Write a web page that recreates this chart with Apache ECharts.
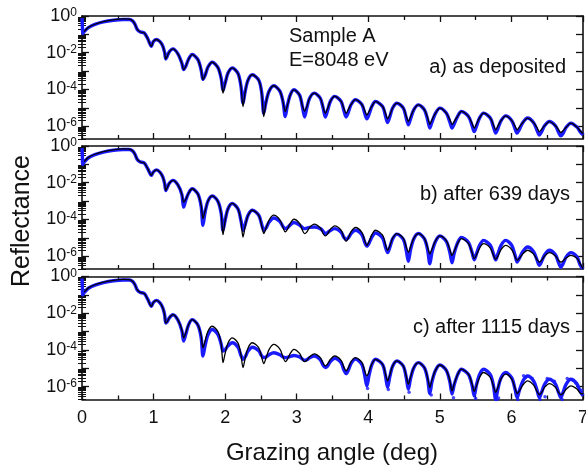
<!DOCTYPE html>
<html><head><meta charset="utf-8">
<script src="https://cdn.jsdelivr.net/npm/echarts@6/dist/echarts.min.js"></script>
<style>html,body{margin:0;padding:0;background:#fff}#c{width:586px;height:469px}</style>
</head><body><div id="c"></div>
<script>
// Grazing angle (deg), shared sampling for all three panels
const angles = [
0,0.005,0.01,0.03,0.09,0.18,0.30,0.44,0.58,0.66,0.71,0.74,0.77,0.81,0.87,0.92,
0.97,0.995,1.04,1.09,1.13,1.155,
1.17,1.19,1.22,1.27,1.34,1.395,
1.42,1.45,1.49,1.54,1.62,1.665,
1.69,1.72,1.76,1.82,1.90,1.945,
1.97,2.00,2.04,2.10,2.18,2.22,
2.25,2.28,2.32,2.38,2.47,2.51,
2.54,2.57,2.615,2.68,2.765,2.81,
2.84,2.87,2.91,2.96,3.04,3.08,
3.11,3.14,3.18,3.245,3.33,3.37,
3.40,3.43,3.47,3.53,3.62,3.66,
3.69,3.72,3.76,3.82,3.91,3.95,
3.98,4.01,4.05,4.10,4.20,4.24,
4.27,4.30,4.34,4.40,4.49,4.53,
4.56,4.59,4.635,4.70,4.785,4.83,
4.86,4.89,4.94,5.00,5.09,5.14,
5.17,5.20,5.25,5.30,5.40,5.45,
5.48,5.51,5.555,5.61,5.705,5.75,
5.78,5.81,5.855,5.92,6.005,6.05,
6.08,6.11,6.16,6.225,6.31,6.36,
6.39,6.42,6.465,6.53,6.615,6.66,
6.69,6.72,6.765,6.83,6.915,6.96,7.00
];

// log10(reflectance)
const fitA_log = [
null,null,null,-0.85,-0.62,-0.45,-0.31,-0.21,-0.16,-0.17,-0.27,-0.45,-0.72,-0.86,-0.93,-1.25,
-1.65,-1.40,-1.28,-1.40,-1.65,-2.00,
-2.34,-2.20,-1.95,-1.79,-2.06,-2.57,
-2.92,-2.74,-2.34,-2.10,-2.38,-2.95,
-3.47,-3.23,-2.78,-2.52,-2.81,-3.44,
-4.20,-3.68,-3.11,-2.83,-3.13,-3.81,
-4.93,-4.13,-3.49,-3.20,-3.50,-4.19,
-5.48,-4.72,-4.09,-3.80,-4.09,-4.70,
-5.20,-4.87,-4.30,-4.02,-4.31,-4.90,
-5.18,-4.95,-4.48,-4.20,-4.48,-4.98,
-5.30,-5.05,-4.65,-4.38,-4.65,-5.05,
-5.30,-5.10,-4.82,-4.56,-4.82,-5.15,
-5.40,-5.20,-4.92,-4.66,-4.93,-5.30,
-5.60,-5.40,-5.01,-4.75,-5.02,-5.45,
-5.75,-5.50,-5.11,-4.84,-5.11,-5.55,
-5.90,-5.65,-5.29,-5.02,-5.29,-5.65,
-5.90,-5.75,-5.45,-5.20,-5.47,-5.85,
-6.10,-5.90,-5.55,-5.29,-5.56,-5.95,
-6.20,-6.00,-5.70,-5.44,-5.70,-6.00,
-6.20,-6.05,-5.80,-5.56,-5.81,-6.10,
-6.30,-6.18,-5.97,-5.75,-5.98,-6.20,
-6.35,-6.25,-6.06,-5.84,-6.05,-6.25,-6.40
];
const dataA_log = [
-0.12,-0.50,-0.95,-0.85,-0.63,-0.46,-0.32,-0.23,-0.19,-0.19,-0.28,-0.45,-0.72,-0.86,-0.93,-1.25,
-1.65,-1.40,-1.28,-1.40,-1.65,-2.00,
-2.34,-2.20,-1.95,-1.79,-2.06,-2.57,
-2.92,-2.74,-2.34,-2.10,-2.38,-2.95,
-3.45,-3.23,-2.78,-2.52,-2.81,-3.40,
-4.05,-3.65,-3.11,-2.83,-3.13,-3.80,
-4.75,-4.10,-3.49,-3.20,-3.50,-4.15,
-5.30,-4.70,-4.09,-3.80,-4.09,-4.70,
-5.48,-4.87,-4.30,-4.02,-4.31,-4.95,
-5.50,-5.03,-4.48,-4.20,-4.48,-5.03,
-5.50,-5.16,-4.65,-4.38,-4.65,-5.16,
-5.50,-5.26,-4.82,-4.56,-4.82,-5.30,
-5.60,-5.36,-4.92,-4.66,-4.93,-5.44,
-5.80,-5.50,-5.01,-4.75,-5.02,-5.55,
-5.93,-5.61,-5.11,-4.84,-5.11,-5.66,
-6.10,-5.78,-5.29,-5.02,-5.29,-5.78,
-6.10,-5.88,-5.45,-5.20,-5.47,-5.97,
-6.30,-6.02,-5.55,-5.29,-5.56,-6.06,
-6.38,-6.14,-5.70,-5.44,-5.70,-6.14,
-6.38,-6.19,-5.80,-5.56,-5.81,-6.25,
-6.48,-6.32,-5.97,-5.75,-5.98,-6.35,
-6.53,-6.40,-6.06,-5.84,-6.05,-6.30,-6.48
];

const fitB_log = [
null,null,null,-0.85,-0.62,-0.45,-0.31,-0.21,-0.16,-0.17,-0.27,-0.45,-0.72,-0.86,-0.93,-1.25,
-1.60,-1.42,-1.30,-1.43,-1.70,-2.05,
-2.42,-2.28,-2.03,-1.87,-2.12,-2.62,
-3.06,-2.91,-2.56,-2.33,-2.62,-3.24,
-3.95,-3.54,-3.00,-2.72,-3.02,-3.70,
-4.83,-4.06,-3.42,-3.13,-3.43,-4.08,
-4.96,-4.38,-3.79,-3.50,-3.78,-4.33,
-4.77,-4.50,-4.03,-3.77,-4.02,-4.46,
-4.68,-4.54,-4.21,-3.99,-4.22,-4.59,
-4.77,-4.69,-4.44,-4.26,-4.47,-4.78,
-4.90,-4.80,-4.54,-4.35,-4.59,-4.99,
-5.19,-5.03,-4.67,-4.44,-4.70,-5.15,
-5.41,-5.22,-4.83,-4.59,-4.86,-5.36,
-5.68,-5.45,-5.02,-4.77,-5.03,-5.50,
-5.78,-5.50,-5.03,-4.77,-5.04,-5.54,
-5.87,-5.61,-5.16,-4.90,-5.16,-5.65,
-5.96,-5.73,-5.29,-5.04,-5.31,-5.81,
-6.14,-5.95,-5.56,-5.32,-5.56,-5.97,
-6.17,-6.01,-5.64,-5.41,-5.65,-6.04,
-6.23,-6.13,-5.87,-5.68,-5.89,-6.20,
-6.32,-6.24,-5.99,-5.81,-5.99,-6.24,
-6.32,-6.26,-6.10,-5.96,-6.12,-6.40,-6.68
];
const dataB_log = [
-0.12,-0.50,-1.00,-0.88,-0.64,-0.47,-0.33,-0.23,-0.19,-0.19,-0.28,-0.45,-0.72,-0.86,-0.93,-1.25,
-1.60,-1.42,-1.30,-1.43,-1.70,-2.05,
-2.42,-2.28,-2.03,-1.87,-2.12,-2.65,
-3.33,-2.95,-2.56,-2.33,-2.62,-3.30,
-4.32,-3.60,-3.00,-2.72,-3.02,-3.68,
-4.60,-4.04,-3.42,-3.13,-3.43,-4.04,
-4.60,-4.27,-3.77,-3.50,-3.77,-4.27,
-4.60,-4.47,-4.14,-3.92,-4.12,-4.40,
-4.50,-4.45,-4.30,-4.17,-4.30,-4.45,
-4.50,-4.47,-4.43,-4.41,-4.50,-4.65,
-4.77,-4.72,-4.60,-4.50,-4.70,-4.98,
-5.08,-5.00,-4.77,-4.59,-4.83,-5.24,
-5.45,-5.30,-4.96,-4.74,-5.01,-5.50,
-5.81,-5.53,-5.06,-4.80,-5.09,-5.68,
-6.28,-5.66,-5.06,-4.77,-5.06,-5.68,
-6.41,-5.79,-5.19,-4.90,-5.19,-5.80,
-6.36,-5.84,-5.26,-4.98,-5.26,-5.80,
-6.20,-5.89,-5.41,-5.14,-5.41,-5.89,
-6.20,-5.89,-5.41,-5.14,-5.41,-5.94,
-6.32,-6.13,-5.74,-5.50,-5.76,-6.23,
-6.50,-6.31,-5.92,-5.68,-5.93,-6.37,
-6.60,-6.42,-6.04,-5.81,-6.04,-6.48,-6.70
];

const fitC_log = [
null,null,null,-0.85,-0.62,-0.45,-0.31,-0.21,-0.16,-0.17,-0.27,-0.45,-0.72,-0.86,-0.93,-1.25,
-1.63,-1.42,-1.30,-1.44,-1.72,-2.10,
-2.53,-2.46,-2.25,-2.08,-2.36,-2.90,
-3.34,-3.07,-2.61,-2.35,-2.64,-3.24,
-3.88,-3.51,-2.98,-2.71,-3.01,-3.69,
-4.69,-4.19,-3.62,-3.34,-3.63,-4.25,
-4.96,-4.46,-3.89,-3.61,-3.88,-4.40,
-4.75,-4.45,-3.97,-3.70,-3.96,-4.40,
-4.64,-4.51,-4.19,-3.97,-4.19,-4.51,
-4.64,-4.58,-4.37,-4.21,-4.42,-4.74,
-4.87,-4.77,-4.52,-4.33,-4.57,-4.95,
-5.14,-4.99,-4.64,-4.42,-4.68,-5.15,
-5.42,-5.19,-4.76,-4.51,-4.78,-5.31,
-5.69,-5.37,-4.87,-4.60,-4.88,-5.42,
-5.86,-5.49,-4.96,-4.69,-4.97,-5.54,
-6.04,-5.63,-5.10,-4.82,-5.10,-5.69,
-6.23,-5.85,-5.32,-5.05,-5.32,-5.86,
-6.26,-5.97,-5.49,-5.23,-5.50,-5.99,
-6.31,-6.04,-5.58,-5.32,-5.59,-6.07,
-6.37,-6.24,-5.91,-5.69,-5.92,-6.28,
-6.44,-6.33,-6.03,-5.83,-6.03,-6.33,
-6.44,-6.37,-6.14,-5.96,-6.13,-6.34,-6.40
];
const dataC_log = [
-0.10,-0.50,-1.00,-0.88,-0.64,-0.47,-0.33,-0.23,-0.19,-0.19,-0.28,-0.45,-0.72,-0.86,-0.93,-1.25,
-1.63,-1.42,-1.30,-1.44,-1.72,-2.10,
-2.53,-2.46,-2.25,-2.08,-2.37,-2.95,
-3.52,-3.15,-2.62,-2.35,-2.65,-3.33,
-4.33,-3.76,-3.18,-2.89,-3.16,-3.69,
-4.06,-3.99,-3.78,-3.61,-3.86,-4.29,
-4.51,-4.38,-4.06,-3.85,-4.05,-4.32,
-4.42,-4.39,-4.26,-4.15,-4.26,-4.39,
-4.42,-4.40,-4.35,-4.30,-4.38,-4.50,
-4.57,-4.54,-4.43,-4.33,-4.54,-4.84,
-4.96,-4.88,-4.64,-4.46,-4.70,-5.10,
-5.29,-5.11,-4.73,-4.50,-4.79,-5.38,
-5.96,-5.39,-4.80,-4.51,-4.80,-5.40,
-6.04,-5.47,-4.89,-4.60,-4.89,-5.49,
-6.14,-5.57,-4.98,-4.69,-4.98,-5.61,
-6.37,-5.73,-5.11,-4.82,-5.11,-5.74,
-6.40,-5.90,-5.33,-5.05,-5.34,-5.93,
-6.50,-5.93,-5.34,-5.05,-5.34,-5.97,
-6.70,-6.14,-5.52,-5.23,-5.52,-6.13,
-6.60,-6.22,-5.69,-5.42,-5.69,-6.22,
-6.60,-6.33,-5.86,-5.60,-5.86,-6.33,
-6.60,-6.33,-5.86,-5.60,-5.85,-6.25,-6.50
];
// scattered noisy measured points in panel c (angle, log10 reflectance)
const noiseC_angle = [3.99,4.28,4.57,4.88,5.19,5.50,5.80,5.82,6.09,6.17,6.20,6.29,6.40,6.47,6.50,6.60,6.71,6.78,6.86,6.90,6.98];
const noiseC_log   = [-6.10,-6.15,-6.30,-6.45,-6.60,-6.65,-6.70,-6.62,-6.70,-5.40,-5.50,-5.55,-6.70,-6.55,-5.55,-5.70,-6.70,-5.55,-5.65,-5.80,-6.20];

const panelLabels = ['a) as deposited','b) after 639 days','c) after 1115 days'];
const xTickValues = [0,1,2,3,4,5,6,7];
const yLabelExps = [0,-2,-4,-6];

const FONT = 'Liberation Sans, Arial, Helvetica, sans-serif';
const BLUE = '#1a1aff';
const INK = '#111';
const YMIN = Math.pow(10,-6.7), YMAX = 1;

function pairs(logs){
  const out=[];
  angles.forEach((a,i)=>{ if(logs[i]!=null) out.push([a, Math.pow(10, logs[i])]); });
  return out;
}
const majorVals=[]; for(let e=0;e>=-6;e--) majorVals.push(Math.pow(10,e));
const minorVals=[]; for(let e=-7;e<0;e++){ for(let k=2;k<=9;k++){ const v=k*Math.pow(10,e); if(v>=YMIN && v<=YMAX) minorVals.push(v);} }

const tops=[16,146,276.5];
const grids=tops.map(t=>({left:82,width:501,top:t,height:123,outerBoundsMode:'none',containLabel:false}));
const xAxis=[], yAxis=[], series=[];
const axLine={show:true,lineStyle:{color:INK,width:1.6}};
tops.forEach((t,g)=>{
  ['bottom','top'].forEach(pos=>{
    xAxis.push({gridIndex:g,type:'value',min:0,max:7,interval:1,position:pos,
      axisLine:Object.assign({onZero:false},axLine),
      axisTick:{show:true,inside:true,length:6,lineStyle:{color:INK,width:1.3}},
      minorTick:{show:true,splitNumber:2,length:4,lineStyle:{color:INK,width:1.3}},
      splitLine:{show:false},minorSplitLine:{show:false},
      axisLabel:{show:false}
    });
  });
  ['left','right'].forEach(pos=>{
    yAxis.push({gridIndex:g,type:'log',logBase:10,min:YMIN,max:YMAX,position:pos,
      axisLine:Object.assign({onZero:false},axLine),
      axisTick:{show:true,inside:true,length:7,customValues:majorVals,lineStyle:{color:INK,width:1.3}},
      splitLine:{show:false},axisLabel:{show:false}
    });
    yAxis.push({gridIndex:g,type:'log',logBase:10,min:YMIN,max:YMAX,position:pos,
      axisLine:{show:false},
      axisTick:{show:true,inside:true,length:4,customValues:minorVals,lineStyle:{color:INK,width:1}},
      splitLine:{show:false},axisLabel:{show:false}
    });
  });
});
const fits=[fitA_log,fitB_log,fitC_log], datas=[dataA_log,dataB_log,dataC_log];
for(let g=0;g<3;g++){
  series.push({type:'line',xAxisIndex:g*2,yAxisIndex:g*4,data:pairs(datas[g]),showSymbol:false,smooth:0.3,
    lineStyle:{color:BLUE,width:3.4},z:2,animation:false});
  series.push({type:'line',xAxisIndex:g*2,yAxisIndex:g*4,data:pairs(fits[g]),showSymbol:false,smooth:0.3,
    lineStyle:{color:'#000',width:1.3},z:3,animation:false});
}
series.push({type:'scatter',xAxisIndex:4,yAxisIndex:8,symbolSize:3.5,itemStyle:{color:BLUE},z:2,animation:false,
  data:noiseC_angle.map((a,i)=>[a,Math.pow(10,noiseC_log[i])])});

const txt=(x,y,s,align,size,extra)=>Object.assign({type:'text',x:x,y:y,z:10,
  style:{text:s,fontSize:size,fontFamily:FONT,fill:INK,align:align,verticalAlign:'middle'}},extra||{});
const graphic=[
  txt(289,36,'Sample A','left',20),
  txt(289,60,'E=8048 eV','left',20),
  txt(566,67,panelLabels[0],'right',20),
  txt(570,194,panelLabels[1],'right',20),
  txt(570,327,panelLabels[2],'right',20),
  txt(332,453,'Grazing angle (deg)','center',24),
  txt(22,221,'Reflectance','center',25,{rotation:Math.PI/2})
];
const chart=echarts.init(document.getElementById('c'),null,{renderer:'canvas'});
chart.setOption({animation:false,backgroundColor:'#fff',grid:grids,xAxis:xAxis,yAxis:yAxis,series:series,graphic:graphic});

// tick labels placed at positions given by the axes' own scales
const tickText=[];
for(let g=0;g<3;g++){
  yLabelExps.forEach(e=>{
    const py=chart.convertToPixel({yAxisIndex:g*4},Math.pow(10,e));
    tickText.push({type:'text',x:77,y:py,z:10,style:{text:'{b|10}{s|'+e+'}',align:'right',verticalAlign:'middle',
      rich:{b:{fontSize:18,fontFamily:FONT,fill:INK,lineHeight:18,verticalAlign:'bottom'},
            s:{fontSize:12,fontFamily:FONT,fill:INK,lineHeight:12,verticalAlign:'top'}}}});
  });
}
xTickValues.forEach(v=>{
  const px=chart.convertToPixel({xAxisIndex:4},v);
  tickText.push(txt(px,418,String(v),'center',18));
});
chart.setOption({graphic:graphic.concat(tickText)});
</script></body></html>
